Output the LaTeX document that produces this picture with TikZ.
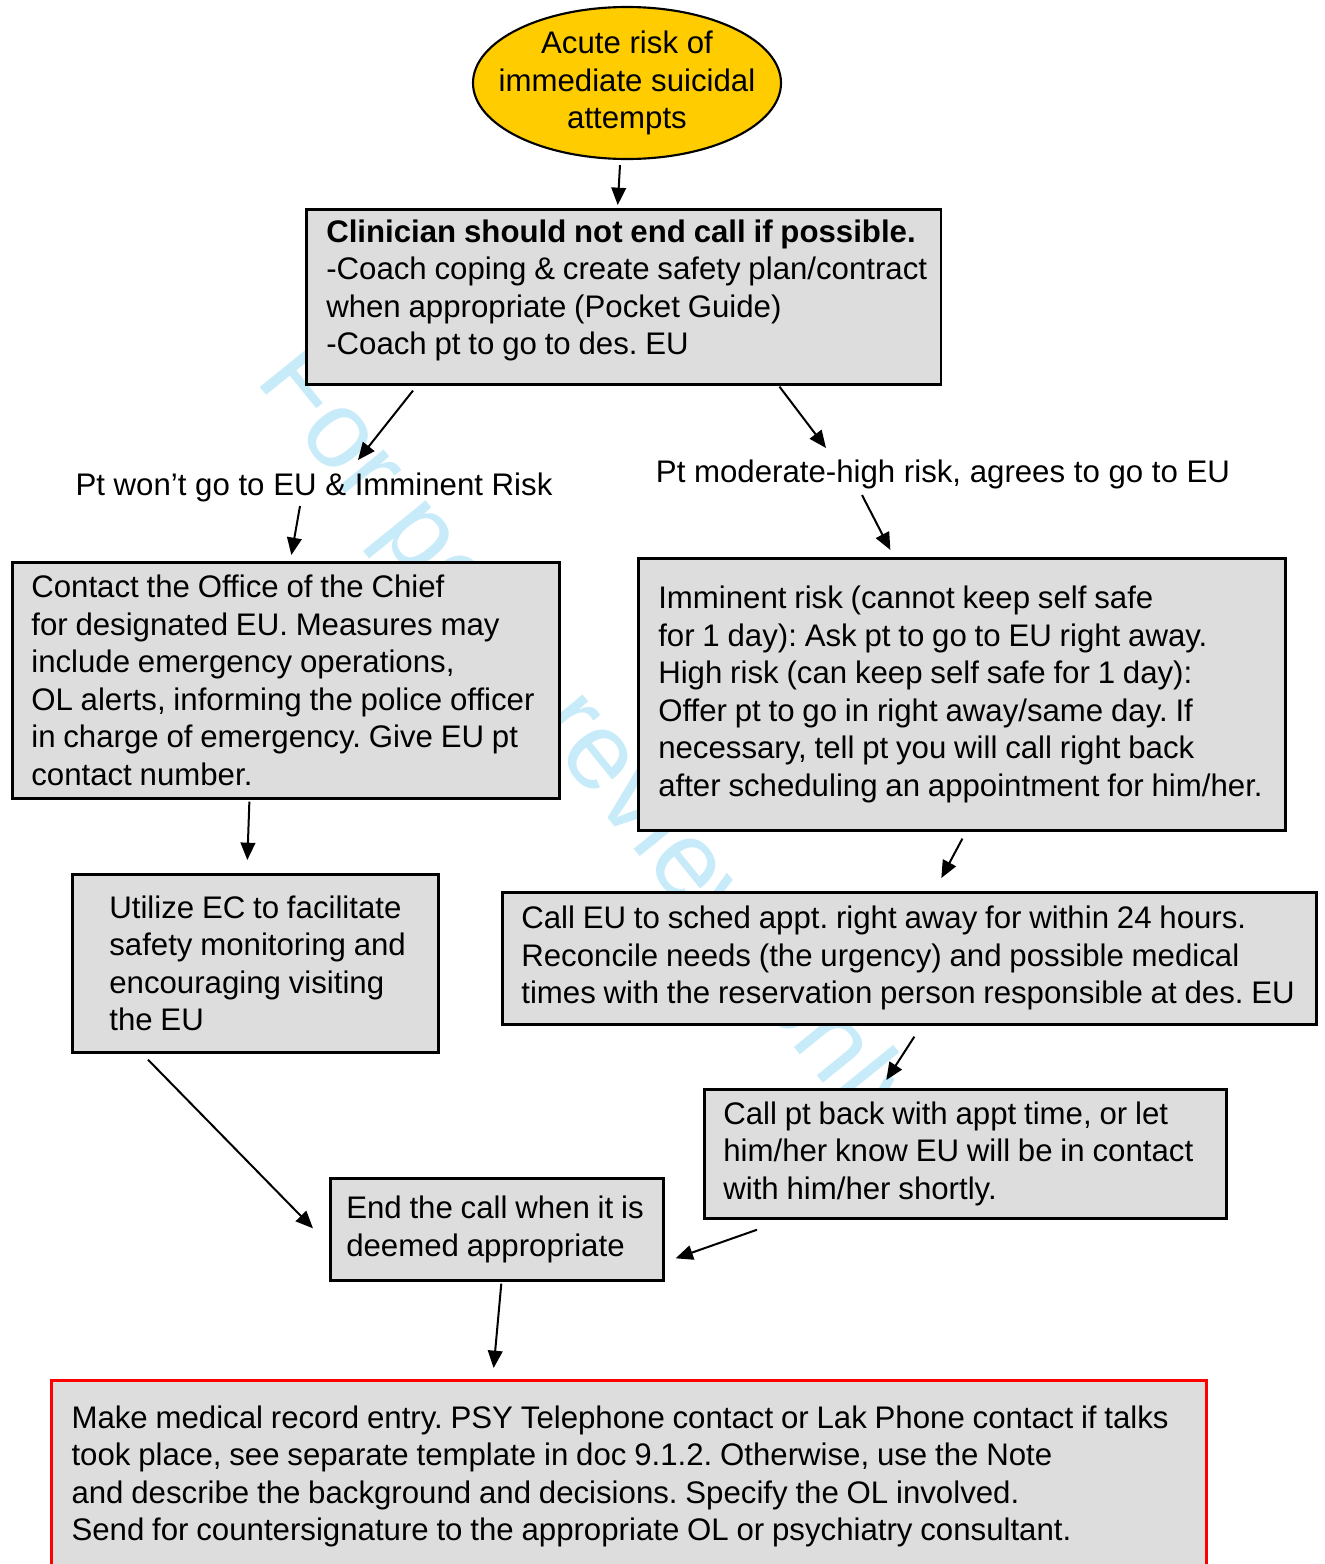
\documentclass[tikz,border=0pt]{standalone}
\usepackage{fontspec}
\setmainfont{Liberation Sans}
\usetikzlibrary{arrows.meta,shapes.geometric,calc}
\definecolor{flowGray}{HTML}{DDDDDD}
\definecolor{flowYellow}{HTML}{FFCC00}
\definecolor{flowRed}{HTML}{FF0000}
\definecolor{flowMark}{RGB}{200,235,250}

\tikzset{
  flowbox/.style={draw, line width=1pt, fill=flowGray, anchor=north west,
    align=left, inner xsep=0.375pt, inner ysep=0pt},
  textinset/.style={execute at begin node={\leftskip=#1\relax
    \frenchspacing\spaceskip=0.25em\relax}},
  flowarr/.style={-{Triangle[length=6.5pt,width=5.5pt]}, line width=0.75pt},
}

\begin{document}
\begin{tikzpicture}[x=0.375pt,y=-0.375pt,font=\fontsize{11.7}{14.06}\selectfont]
    \useasboundingbox (0,0) rectangle (1324,1564);
    % watermark behind everything
    \node[rotate=-51, text=flowMark, font=\fontsize{41}{41}\selectfont]
      (mark) at (588,748) {For peer review only};

    \node[ellipse, draw, line width=0.8pt, fill=flowYellow, align=center,
          minimum width=115.5pt, minimum height=57pt, inner xsep=-7.5pt, inner ysep=0pt]
      (start) at (627,83) {Acute risk of\\immediate suicidal\\attempts};

    \node[flowbox, textinset=7.1pt, text width=237.3pt, text depth=49.5pt, minimum height=65.6pt]
      (clin) at (305,208) {\textbf{Clinician should not end call if possible.}\\
      -Coach coping \& create safety plan/contract\\
      when appropriate (Pocket Guide)\\
      -Coach pt to go to des. EU};

    \node (won) at (314,487) {Pt won’t go to EU \& Imminent Risk};
    \node (agree) at (943,474) {Pt moderate-high risk, agrees to go to EU};

    \node[flowbox, textinset=6.75pt, text width=204.4pt, minimum height=88.5pt]
      (chief) at (11,561) {Contact the Office of the Chief\\
      for designated EU. Measures may\\
      include emergency operations,\\
      OL alerts, informing the police officer\\
      in charge of emergency. Give EU pt\\
      contact number.};

    \node[flowbox, textinset=7.1pt, text width=241.9pt, minimum height=102pt]
      (immi) at (637,557) {Imminent risk (cannot keep self safe\\
      for 1 day): Ask pt to go to EU right away.\\
      High risk (can keep self safe for 1 day):\\
      Offer pt to go in right away/same day. If\\
      necessary, tell pt you will call right back\\
      after scheduling an appointment for him/her.};

    \node[flowbox, textinset=13.5pt, text width=136.5pt, minimum height=66.75pt]
      (util) at (71,873) {Utilize EC to facilitate\\
      safety monitoring and\\
      encouraging visiting\\
      the EU};

    \node[flowbox, textinset=6.75pt, text width=304.5pt, minimum height=49.5pt]
      (sched) at (501,891) {Call EU to sched appt. right away for within 24 hours.\\
      Reconcile needs (the urgency) and possible medical\\
      times with the reservation person responsible at des. EU};

    \node[flowbox, textinset=6.75pt, text width=195pt, minimum height=48.4pt]
      (back) at (703,1088) {Call pt back with appt time, or let\\
      him/her know EU will be in contact\\
      with him/her shortly.};

    \node[flowbox, textinset=5.6pt, text width=124.1pt, minimum height=38.25pt]
      (endc) at (329,1177) {End the call when it is\\
      deemed appropriate};

    \node[flowbox, draw=flowRed, line width=1.2pt, textinset=7.1pt,
          text width=432.4pt, minimum height=72pt]
      (record) at (50,1379) {Make medical record entry. PSY Telephone contact or Lak Phone contact if talks\\
      took place, see separate template in doc 9.1.2. Otherwise, use the Note\\
      and describe the background and decisions. Specify the OL involved.\\
      Send for countersignature to the appropriate OL or psychiatry consultant.};

    % connectors
    \draw[flowarr] ($(start.south)+(-7,5)$) -- ($(clin.north)+(-6,-3)$);
    \draw[flowarr] ($(clin.south west)+(108,5)$) -- ($(won.center)+(44,-27)$);
    \draw[flowarr] ($(clin.south east)+(-163,1)$) -- ($(agree.center)+(-117,-26)$);
    \draw[flowarr] ($(won.center)+(-14,19)$) -- ($(chief.north)+(5.5,-6)$);
    \draw[flowarr] ($(agree.center)+(-81,21)$) -- ($(immi.north)+(-71.5,-7)$);
    \draw[flowarr] ($(chief.south)+(-36.5,2)$) -- ($(util.north)+(-8,-13)$);
    \draw[flowarr] ($(immi.south)+(0.5,7)$) -- ($(sched.north)+(32,-13)$);
    \draw[flowarr] ($(sched.south)+(5,11)$) -- ($(back.north)+(-79,-8)$);
    \draw[flowarr] ($(util.south west)+(77,6)$) -- ($(endc.west)+(-16,-1)$);
    \draw[flowarr] ($(back.south west)+(54,10)$) -- ($(endc.east)+(11,29)$);
    \draw[flowarr] ($(endc.south)+(4.5,2)$) -- ($(record.north)+(-135.5,-11)$);
\end{tikzpicture}
\end{document}
